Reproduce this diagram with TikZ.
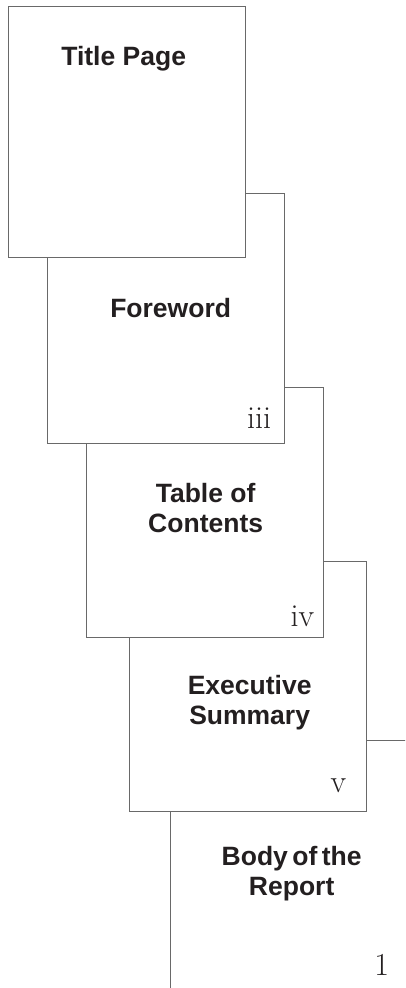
\documentclass[tikz,border=0pt]{standalone}
\usepackage{fontspec}
\setmainfont{Latin Modern Roman}
\newfontfamily\headfont{Liberation Sans}
\usepackage{tikz}
\usetikzlibrary{calc,positioning}
\definecolor{pageline}{RGB}{105,105,105}
\definecolor{pageink}{RGB}{35,31,32}

\begin{document}
\begin{tikzpicture}[x=1pt,y=-1pt,
    sheet/.style={draw=pageline, line width=1.3pt, fill=white, minimum width=237pt, minimum height=250pt, anchor=north west, inner sep=0pt},
    heading/.style={text=pageink, font=\headfont\bfseries\fontsize{26.5}{30}\selectfont, align=center, anchor=base, inner sep=0pt},
    folio/.style={text=pageink, font=\fontsize{32}{36}\selectfont, anchor=base east, inner sep=0pt}]
  \useasboundingbox (0,0) rectangle (405,988);
  \clip (0,0) rectangle (405,988);
  % sheets from the back to the front
  \node[sheet] (body) at (170,740) {};
  \node[sheet] (summary) at (129,561) {};
  \node[sheet] (contents) at (86,387) {};
  \node[sheet] (foreword) at (47,193) {};
  \node[sheet, minimum height=251pt] (titlepage) at (8,6) {};
  % headings (base = last line)
  \node[heading] (titletext) at ($(titlepage.north)+(-3.5,59.7)$) {Title Page};
  \node[heading] (forewordtext) at ($(foreword.north)+(4.5,124)$) {Foreword};
  \node[heading] (contentstext) at ($(contents.north)+(0.5,145)$) {Table of\\Contents};
  \node[heading] (summarytext) at ($(summary.north)+(1.5,163)$) {Executive\\Summary};
  \node[heading] (bodytext) at ($(body.north)+(2.5,155)$) {Body\,of\,the\\Report};
  % page numbers
  \node[folio] (forewordnum) at ($(foreword.south east)+(-14,-16)$) {iii};
  \node[folio] (contentsnum) at ($(contents.south east)+(-10,-12)$) {iv};
  \node[folio] (summarynum) at ($(summary.south east)+(-21,-20)$) {v};
  \node[folio] (bodynum) at ($(body.south east)+(-19,-16)$) {1};
\end{tikzpicture}
\end{document}
